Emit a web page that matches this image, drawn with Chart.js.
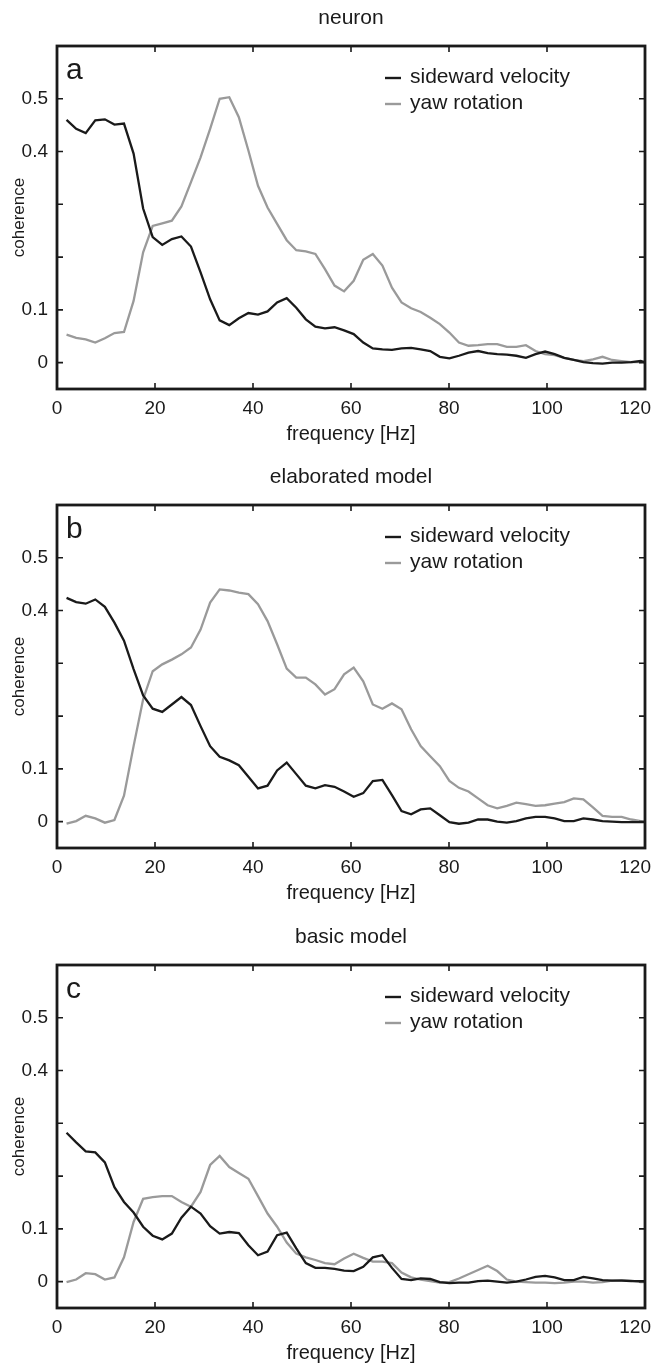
<!DOCTYPE html>
<html>
<head>
<meta charset="utf-8">
<script src="https://cdn.jsdelivr.net/npm/chart.js@4.4.1/dist/chart.umd.min.js"></script>
<style>
  html, body { margin: 0; padding: 0; background: #fff; }
  .panel { position: absolute; left: 0; width: 652px; height: 447px; }
</style>
</head>
<body>
<div class="panel" style="top:0px"><canvas id="chartA" width="652" height="447"></canvas></div>
<div class="panel" style="top:459px"><canvas id="chartB" width="652" height="447"></canvas></div>
<div class="panel" style="top:919px"><canvas id="chartC" width="652" height="447"></canvas></div>
<script>
// frequency grid of the coherence estimate [Hz]
const freq = [1.95, 3.91, 5.86, 7.81, 9.77, 11.72, 13.67, 15.63, 17.58, 19.53,
  21.48, 23.44, 25.39, 27.34, 29.3, 31.25, 33.2, 35.16, 37.11, 39.06,
  41.02, 42.97, 44.92, 46.88, 48.83, 50.78, 52.73, 54.69, 56.64, 58.59,
  60.55, 62.5, 64.45, 66.41, 68.36, 70.31, 72.27, 74.22, 76.17, 78.13,
  80.08, 82.03, 83.98, 85.94, 87.89, 89.84, 91.8, 93.75, 95.7, 97.66,
  99.61, 101.56, 103.52, 105.47, 107.42, 109.38, 111.33, 113.28, 115.23, 117.19,
  119.14, 121.09];

// a: neuron
const neuronSideward = [0.460, 0.443, 0.435, 0.459, 0.461, 0.451, 0.453, 0.396, 0.292, 0.238,
  0.223, 0.234, 0.239, 0.220, 0.171, 0.120, 0.080, 0.071, 0.084, 0.094,
  0.091, 0.097, 0.114, 0.122, 0.104, 0.082, 0.068, 0.065, 0.067, 0.061,
  0.054, 0.038, 0.027, 0.025, 0.024, 0.027, 0.028, 0.025, 0.022, 0.011,
  0.008, 0.013, 0.019, 0.022, 0.018, 0.016, 0.015, 0.013, 0.009, 0.016,
  0.021, 0.016, 0.009, 0.005, 0.001, -0.001, -0.002, 0.000, 0.000, 0.001,
  0.003, -0.003];
const neuronYaw = [0.053, 0.047, 0.044, 0.038, 0.046, 0.056, 0.058, 0.117, 0.209, 0.259,
  0.264, 0.269, 0.296, 0.342, 0.389, 0.443, 0.500, 0.503, 0.465, 0.402,
  0.335, 0.294, 0.263, 0.232, 0.213, 0.211, 0.206, 0.177, 0.146, 0.135,
  0.155, 0.195, 0.206, 0.184, 0.142, 0.114, 0.103, 0.096, 0.085, 0.073,
  0.057, 0.038, 0.032, 0.033, 0.035, 0.035, 0.030, 0.030, 0.033, 0.022,
  0.016, 0.014, 0.009, 0.005, 0.003, 0.006, 0.011, 0.005, 0.003, 0.001,
  0.001, 0.004];

// b: elaborated model
const elaboratedSideward = [0.424, 0.416, 0.413, 0.421, 0.407, 0.377, 0.343, 0.289, 0.239, 0.214,
  0.208, 0.222, 0.236, 0.221, 0.181, 0.143, 0.123, 0.116, 0.107, 0.085,
  0.063, 0.068, 0.097, 0.112, 0.090, 0.068, 0.063, 0.069, 0.066, 0.057,
  0.047, 0.054, 0.077, 0.079, 0.050, 0.020, 0.014, 0.023, 0.025, 0.012,
  -0.001, -0.004, -0.002, 0.004, 0.004, 0.000, -0.002, 0.001, 0.006, 0.009,
  0.009, 0.006, 0.001, 0.001, 0.006, 0.004, 0.001, 0.000, -0.001, -0.001,
  -0.001, -0.001];
const elaboratedYaw = [-0.004, 0.001, 0.011, 0.006, -0.002, 0.003, 0.049, 0.143, 0.232, 0.285,
  0.298, 0.307, 0.317, 0.330, 0.364, 0.415, 0.440, 0.438, 0.434, 0.431,
  0.412, 0.380, 0.336, 0.290, 0.273, 0.273, 0.260, 0.241, 0.251, 0.279,
  0.292, 0.266, 0.222, 0.214, 0.224, 0.213, 0.175, 0.143, 0.124, 0.105,
  0.077, 0.064, 0.057, 0.044, 0.031, 0.025, 0.030, 0.036, 0.033, 0.030,
  0.031, 0.034, 0.037, 0.044, 0.042, 0.027, 0.011, 0.009, 0.009, 0.004,
  0.001, -0.002];

// c: basic model
const basicSideward = [0.282, 0.264, 0.247, 0.245, 0.226, 0.179, 0.151, 0.131, 0.104, 0.087,
  0.080, 0.091, 0.121, 0.142, 0.129, 0.105, 0.091, 0.094, 0.092, 0.069,
  0.050, 0.057, 0.088, 0.093, 0.063, 0.035, 0.026, 0.026, 0.024, 0.021,
  0.020, 0.028, 0.046, 0.050, 0.026, 0.005, 0.003, 0.006, 0.005, -0.001,
  -0.003, -0.002, -0.002, 0.001, 0.002, 0.000, -0.002, 0.000, 0.004, 0.009,
  0.011, 0.008, 0.003, 0.003, 0.009, 0.006, 0.003, 0.002, 0.002, 0.001,
  0.001, 0.001];
const basicYaw = [-0.001, 0.004, 0.016, 0.014, 0.004, 0.008, 0.046, 0.113, 0.157, 0.160,
  0.162, 0.162, 0.151, 0.142, 0.170, 0.221, 0.238, 0.217, 0.206, 0.195,
  0.162, 0.129, 0.104, 0.074, 0.053, 0.046, 0.041, 0.035, 0.033, 0.044,
  0.053, 0.045, 0.038, 0.038, 0.035, 0.017, 0.008, 0.004, 0.001, -0.002,
  -0.001, 0.006, 0.014, 0.022, 0.030, 0.020, 0.004, 0.000, -0.001, -0.002,
  -0.002, -0.003, -0.002, 0.000, 0.000, -0.002, -0.001, 0.002, 0.003, 0.002,
  -0.001, -0.001];

const xTicks = [0, 20, 40, 60, 80, 100, 120];
const yTicks = [0, 0.1, 0.2, 0.3, 0.4, 0.5];
const yLabelled = [0, 0.1, 0.4, 0.5];
const seriesNames = ["sideward velocity", "yaw rotation"];

const FONT = "'Liberation Sans', Arial, Helvetica, sans-serif";
const INK = "#1a1a1a";
const BLACK_LINE = "#1a1a1a";
const GRAY_LINE = "#9a9a9a";

// frame, inward ticks, x labels, panel title, letter and in-axes legend (MATLAB look)
const decorPlugin = {
  id: "decor",
  afterDatasetsDraw(chart, args, opts) {
    const { ctx, chartArea: a, scales: { x, y } } = chart;
    ctx.save();
    ctx.strokeStyle = INK;
    ctx.lineWidth = 1.6;
    const tl = 6;
    ctx.beginPath();
    xTicks.forEach(v => {
      const px = x.getPixelForValue(v);
      ctx.moveTo(px, a.bottom); ctx.lineTo(px, a.bottom - tl);
      ctx.moveTo(px, a.top); ctx.lineTo(px, a.top + tl);
    });
    yTicks.forEach(v => {
      const py = y.getPixelForValue(v);
      ctx.moveTo(a.left, py); ctx.lineTo(a.left + tl, py);
      ctx.moveTo(a.right, py); ctx.lineTo(a.right - tl, py);
    });
    ctx.stroke();
    ctx.lineWidth = 2.8;
    ctx.strokeRect(a.left, a.top, a.right - a.left, a.bottom - a.top);

    ctx.fillStyle = INK;
    ctx.textBaseline = "middle";
    ctx.textAlign = "center";

    // x tick labels; the last one is kept inside the figure like the original
    ctx.font = "19px " + FONT;
    xTicks.forEach(v => {
      const label = String(v);
      const half = ctx.measureText(label).width / 2;
      const px = Math.min(x.getPixelForValue(v), chart.width - half - 1);
      ctx.fillText(label, px, a.bottom + 20);
    });

    ctx.font = "21px " + FONT;
    ctx.fillText(opts.title, (a.left + a.right) / 2, 18);

    ctx.textAlign = "left";
    ctx.textBaseline = "alphabetic";
    ctx.font = "30px " + FONT;
    ctx.fillText(opts.letter, a.left + 9, a.top + 33);

    ctx.font = "21px " + FONT;
    ctx.textBaseline = "middle";
    chart.data.datasets.forEach((ds, i) => {
      const ly = a.top + 32 + i * 26;
      ctx.strokeStyle = ds.borderColor;
      ctx.lineWidth = 2.4;
      ctx.beginPath();
      ctx.moveTo(a.left + 328, ly);
      ctx.lineTo(a.left + 344, ly);
      ctx.stroke();
      ctx.fillText(ds.label, a.left + 353, ly - 1);
    });
    ctx.restore();
  }
};

function makePanel(id, title, letter, sideward, yaw) {
  const pts = vals => freq.map((f, i) => ({ x: f, y: vals[i] }));
  return new Chart(document.getElementById(id), {
    type: "line",
    data: {
      datasets: [
        { label: seriesNames[0], data: pts(sideward), borderColor: BLACK_LINE, borderWidth: 2.3, order: 1 },
        { label: seriesNames[1], data: pts(yaw), borderColor: GRAY_LINE, borderWidth: 2.3, order: 2 }
      ]
    },
    options: {
      responsive: false,
      animation: false,
      devicePixelRatio: 1,
      layout: { padding: { top: 46, right: 7, bottom: 0, left: 0 } },
      elements: { point: { radius: 0 }, line: { tension: 0 } },
      plugins: {
        legend: { display: false },
        tooltip: { enabled: false },
        decor: { title: title, letter: letter }
      },
      scales: {
        x: {
          type: "linear",
          min: 0,
          max: 120,
          afterBuildTicks: s => { s.ticks = xTicks.map(v => ({ value: v })); },
          afterFit: s => { s.height = 58; s.paddingLeft = 0; s.paddingRight = 0; },
          grid: { display: false, drawTicks: false },
          border: { display: false },
          ticks: { display: false },
          title: { display: true, text: "frequency [Hz]", color: INK, font: { family: FONT, size: 20 }, padding: { top: 0, bottom: 1 } }
        },
        y: {
          min: -0.05,
          max: 0.6,
          afterBuildTicks: s => { s.ticks = yTicks.map(v => ({ value: v })); },
          afterFit: s => { s.width = 57; s.paddingTop = 0; s.paddingBottom = 0; },
          grid: { display: false, drawTicks: false },
          border: { display: false },
          ticks: {
            color: INK, font: { family: FONT, size: 19 }, padding: 9,
            callback: v => yLabelled.some(t => Math.abs(t - v) < 1e-9) ? String(Math.round(v * 10) / 10) : ""
          },
          title: { display: true, text: "coherence", color: INK, font: { family: FONT, size: 17 }, padding: { top: 9, bottom: 0 } }
        }
      }
    },
    plugins: [decorPlugin]
  });
}

makePanel("chartA", "neuron", "a", neuronSideward, neuronYaw);
makePanel("chartB", "elaborated model", "b", elaboratedSideward, elaboratedYaw);
makePanel("chartC", "basic model", "c", basicSideward, basicYaw);
</script>
</body>
</html>
